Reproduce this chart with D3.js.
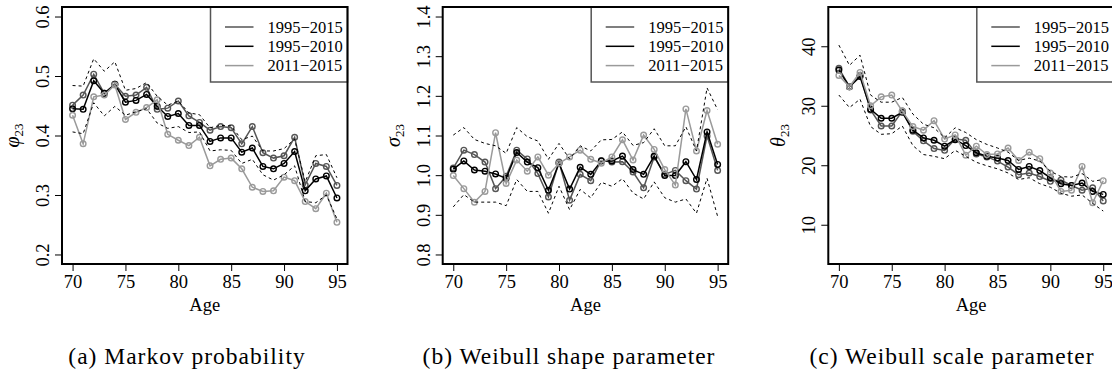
<!DOCTYPE html>
<html>
<head>
<meta charset="utf-8">
<script src="https://cdn.jsdelivr.net/npm/d3@7/dist/d3.min.js"></script>
<style>
  html, body { margin: 0; padding: 0; background: #fff; }
  svg text { font-family: "Liberation Serif", "DejaVu Serif", serif; fill: #000; }
</style>
</head>
<body>
<div id="chart"></div>
<script>
(function() {
"use strict";

// ages on the x axis
var ages = [70,71,72,73,74,75,76,77,78,79,80,81,82,83,84,85,86,87,88,89,90,91,92,93,94,95];
var xTicks = [70,75,80,85,90,95];
var seriesNames = ["1995\u22122015", "1995\u22122010", "2011\u22122015"];

// (a) Markov probability phi_23
var phiAll   = [0.451,0.468,0.503,0.471,0.486,0.466,0.468,0.481,0.444,0.446,0.458,0.433,0.422,0.409,0.415,0.413,0.386,0.415,0.371,0.362,0.366,0.397,0.317,0.353,0.348,0.316];
var phiEarly = [0.445,0.444,0.492,0.471,0.486,0.456,0.459,0.469,0.449,0.432,0.437,0.417,0.417,0.390,0.396,0.396,0.372,0.379,0.348,0.344,0.353,0.373,0.307,0.327,0.332,0.295];
var phiLate  = [0.434,0.386,0.465,0.468,0.485,0.427,0.439,0.447,0.460,0.402,0.392,0.383,0.397,0.349,0.360,0.362,0.344,0.313,0.306,0.307,0.330,0.324,0.289,0.277,0.303,0.254];
var phiUpper = [0.484,0.483,0.529,0.508,0.524,0.476,0.479,0.489,0.466,0.451,0.458,0.438,0.435,0.413,0.417,0.416,0.393,0.399,0.374,0.374,0.378,0.394,0.322,0.366,0.368,0.329];
var phiLower = [0.406,0.403,0.455,0.433,0.449,0.434,0.440,0.445,0.421,0.412,0.415,0.405,0.406,0.374,0.376,0.375,0.353,0.360,0.334,0.325,0.334,0.349,0.289,0.287,0.300,0.260];
var phiTicks = [0.2,0.3,0.4,0.5,0.6];

// (b) Weibull shape parameter sigma_23
var sigAll   = [1.018,1.063,1.052,1.033,0.966,0.997,1.063,1.041,1.004,0.945,1.033,0.937,1.002,0.986,1.037,1.033,1.034,1.008,0.968,1.046,1.002,1.012,0.986,0.965,1.099,1.012];
var sigEarly = [1.015,1.036,1.013,1.010,1.003,0.992,1.057,1.033,1.019,0.962,1.030,0.965,1.020,1.002,1.036,1.036,1.048,1.014,1.002,1.048,0.999,0.999,1.034,0.989,1.109,1.027];
var sigLate  = [0.999,0.966,0.932,0.959,1.107,0.979,1.038,1.010,1.046,1.000,1.030,1.046,1.063,1.040,1.030,1.046,1.089,1.038,1.101,1.065,1.014,0.975,1.167,1.061,1.163,1.078];
var sigUpper = [1.101,1.120,1.090,1.080,1.074,1.055,1.120,1.097,1.086,1.040,1.080,1.041,1.074,1.061,1.089,1.090,1.109,1.075,1.082,1.117,1.074,1.074,1.122,1.061,1.220,1.165];
var sigLower = [0.920,0.951,0.932,0.932,0.932,0.923,0.989,0.959,0.959,0.904,0.972,0.913,0.964,0.943,0.982,0.972,0.991,0.955,0.940,0.983,0.943,0.932,0.940,0.904,0.992,0.896];
var sigTicks = [0.8,0.9,1.0,1.1,1.2,1.3,1.4];

// (c) Weibull scale parameter theta_23
var thAll   = [36.3,33.2,35.1,29.3,26.6,26.6,29.1,25.7,24.1,22.8,22.5,24.4,24.2,21.9,21.4,20.7,19.7,18.4,18.7,18.1,17.3,17.5,16.6,15.8,16.2,14.0];
var thEarly = [36.0,33.2,34.9,29.4,27.9,27.9,28.9,25.9,24.6,24.2,23.2,24.3,23.3,22.1,21.5,21.2,20.8,19.3,19.8,19.1,17.9,16.9,16.6,17.0,15.6,15.1];
var thLate  = [35.1,33.2,35.6,30.0,31.5,31.8,29.1,26.5,25.9,27.5,24.4,25.1,21.7,23.2,21.8,21.9,22.9,20.8,22.2,21.1,18.7,15.6,15.8,19.8,13.7,17.4];
var thUpper = [40.2,36.8,38.5,31.8,30.6,30.6,31.4,28.6,26.9,26.3,24.6,26.3,25.5,24.3,23.5,22.9,22.2,20.8,21.2,20.7,19.0,18.1,18.0,18.6,17.3,17.6];
var thLower = [31.8,29.7,31.1,26.5,25.2,25.3,26.6,23.3,21.8,21.5,21.1,22.5,21.5,20.5,19.9,19.4,18.7,17.6,17.9,16.9,16.3,15.3,14.8,15.0,13.6,12.3];
var thTicks = [10,20,30,40];

var colors = ["#555555", "#000000", "#9a9a9a"];

var W = 1112, H = 372;
var top = 7, bottom = 264;
var serif = "'Liberation Serif', 'DejaVu Serif', serif";

var panels = [
  {left: 62,    series: [phiAll, phiEarly, phiLate], band: [phiUpper, phiLower], ylim: [0.2, 0.6], ticks: phiTicks,
   fmt: d3.format(".1f"), sym: "\u03c6", caption: "(a) Markov probability", capX: 187},
  {left: 442.7, series: [sigAll, sigEarly, sigLate], band: [sigUpper, sigLower], ylim: [0.8, 1.4], ticks: sigTicks,
   fmt: d3.format(".1f"), sym: "\u03c3", caption: "(b) Weibull shape parameter", capX: 569},
  {left: 828.3, series: [thAll, thEarly, thLate], band: [thUpper, thLower], ylim: [5, 45], ticks: thTicks,
   fmt: d3.format("d"), sym: "\u03b8", caption: "(c) Weibull scale parameter", capX: 952}
];
var panelW = 285.5;

var svg = d3.select("#chart").append("svg")
  .attr("width", W)
  .attr("height", H)
  .attr("viewBox", "0 0 " + W + " " + H)
  .attr("font-family", serif);

// R style 4% padding on both axes
function pad(lim) {
  var d = (lim[1] - lim[0]) * 0.04;
  return [lim[0] - d, lim[1] + d];
}

panels.forEach(function(p) {
  var x = d3.scaleLinear().domain(pad([70, 95])).range([p.left, p.left + panelW]);
  var y = d3.scaleLinear().domain(pad(p.ylim)).range([bottom, top]);
  var g = svg.append("g");

  // x axis
  var xa = g.append("g")
    .attr("transform", "translate(0," + bottom + ")")
    .call(d3.axisBottom(x).tickValues(xTicks).tickSize(7).tickPadding(4).tickSizeOuter(0))
    .attr("font-family", serif);
  xa.select(".domain").remove();
  xa.selectAll("line").attr("stroke", "#000").attr("stroke-width", 1);
  xa.selectAll("text").attr("font-size", 18.5).attr("fill", "#000");

  // y axis, labels turned as in R
  var ya = g.append("g")
    .attr("transform", "translate(" + p.left + ",0)")
    .call(d3.axisLeft(y).tickValues(p.ticks).tickFormat(p.fmt).tickSize(7).tickSizeOuter(0))
    .attr("font-family", serif);
  ya.select(".domain").remove();
  ya.selectAll("line").attr("stroke", "#000").attr("stroke-width", 1);
  ya.selectAll("text")
    .attr("font-size", 18.5)
    .attr("fill", "#000")
    .attr("x", null)
    .attr("dy", null)
    .attr("text-anchor", "middle")
    .attr("transform", "translate(-13,0) rotate(-90)");

  // axis titles
  g.append("text")
    .attr("x", x(82.5))
    .attr("y", 311)
    .attr("text-anchor", "middle")
    .attr("font-size", 18.5)
    .text("Age");
  var yl = g.append("text")
    .attr("text-anchor", "middle")
    .attr("transform", "translate(" + (p.left - 43) + "," + ((top + bottom) / 2) + ") rotate(-90)")
    .attr("font-size", 20);
  yl.append("tspan").attr("font-style", "italic").text(p.sym);
  yl.append("tspan").attr("font-size", 13).attr("dy", 4).text("23");

  var line = d3.line().x(function(d, i) { return x(ages[i]); }).y(function(d) { return y(d); });

  p.series.forEach(function(s, k) {
    g.append("path")
      .attr("d", line(s))
      .attr("fill", "none")
      .attr("stroke", colors[k])
      .attr("stroke-width", 1.5);
    g.selectAll("circle.s" + k)
      .data(s)
      .enter()
      .append("circle")
      .attr("class", "s" + k)
      .attr("cx", function(d, i) { return x(ages[i]); })
      .attr("cy", function(d) { return y(d); })
      .attr("r", 2.8)
      .attr("fill", "none")
      .attr("stroke", colors[k])
      .attr("stroke-width", 1.4);
  });

  // dashed band
  p.band.forEach(function(b) {
    g.append("path")
      .attr("d", line(b))
      .attr("fill", "none")
      .attr("stroke", "#000")
      .attr("stroke-width", 1)
      .attr("stroke-dasharray", "3,3");
  });

  // legend
  var lx = p.left + panelW - 137;
  g.append("rect")
    .attr("x", lx)
    .attr("y", top)
    .attr("width", 137)
    .attr("height", 82 - top)
    .attr("fill", "#fff")
    .attr("stroke", "#555")
    .attr("stroke-width", 1.5);
  seriesNames.forEach(function(name, k) {
    var ly = top + 20 + k * 19.3;
    g.append("line")
      .attr("x1", lx + 14.5).attr("x2", lx + 43)
      .attr("y1", ly).attr("y2", ly)
      .attr("stroke", colors[k])
      .attr("stroke-width", 1.5);
    g.append("text")
      .attr("x", lx + 57)
      .attr("y", ly + 5.5)
      .attr("font-size", 16.5)
      .text(name);
  });

  // frame
  g.append("rect")
    .attr("x", p.left)
    .attr("y", top)
    .attr("width", panelW)
    .attr("height", bottom - top)
    .attr("fill", "none")
    .attr("stroke", "#000")
    .attr("stroke-width", 2);

  // caption
  svg.append("text")
    .attr("x", p.capX)
    .attr("y", 364)
    .attr("text-anchor", "middle")
    .attr("font-size", 23.5)
    .attr("letter-spacing", 1)
    .text(p.caption);
});
})();
</script>
</body>
</html>
